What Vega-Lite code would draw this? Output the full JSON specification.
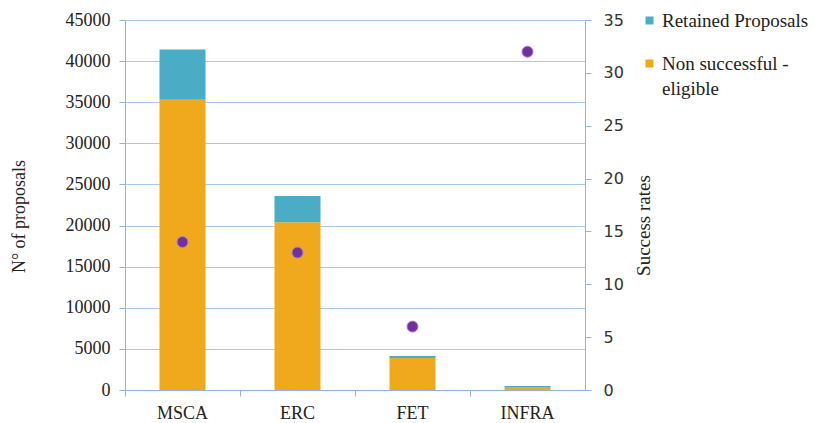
{
  "$schema": "https://vega.github.io/schema/vega-lite/v6.json",
  "autosize": {"type": "none"},
  "width": 460,
  "height": 370,
  "padding": {"left": 125, "top": 20, "right": 229, "bottom": 33},
  "background": "white",
  "datasets": {
    "proposals": [
      {"programme": "MSCA", "type": "Non successful - eligible", "order": 1, "value": 35300},
      {"programme": "MSCA", "type": "Retained Proposals", "order": 2, "value": 6100},
      {"programme": "ERC", "type": "Non successful - eligible", "order": 1, "value": 20400},
      {"programme": "ERC", "type": "Retained Proposals", "order": 2, "value": 3200},
      {"programme": "FET", "type": "Non successful - eligible", "order": 1, "value": 3900},
      {"programme": "FET", "type": "Retained Proposals", "order": 2, "value": 250},
      {"programme": "INFRA", "type": "Non successful - eligible", "order": 1, "value": 350},
      {"programme": "INFRA", "type": "Retained Proposals", "order": 2, "value": 150}
    ],
    "rates": [
      {"programme": "MSCA", "rate": 14},
      {"programme": "ERC", "rate": 13},
      {"programme": "FET", "rate": 6},
      {"programme": "INFRA", "rate": 32}
    ]
  },
  "layer": [
    {
      "data": {"name": "proposals"},
      "mark": {"type": "bar"},
      "encoding": {
        "x": {
          "field": "programme",
          "type": "nominal",
          "sort": ["MSCA", "ERC", "FET", "INFRA"],
          "scale": {"paddingInner": 0.6, "paddingOuter": 0.3},
          "axis": {
            "title": null,
            "labelAngle": 0,
            "labelFont": "Liberation Serif",
            "labelFontSize": 18,
            "labelColor": "#222222",
            "labelPadding": 8,
            "tickSize": 6,
            "bandPosition": -0.75,
            "domainColor": "#8EB4E3",
            "tickColor": "#8EB4E3",
            "grid": false
          }
        },
        "y": {
          "field": "value",
          "type": "quantitative",
          "stack": "zero",
          "scale": {"domain": [0, 45000], "nice": false},
          "axis": {
            "orient": "left",
            "values": [0, 5000, 10000, 15000, 20000, 25000, 30000, 35000, 40000, 45000],
            "format": "d",
            "grid": true,
            "gridColor": "#A9C9E8",
            "domainColor": "#8EB4E3",
            "tickColor": "#8EB4E3",
            "tickSize": 6,
            "labelPadding": 9,
            "labelFont": "Liberation Serif",
            "labelFontSize": 18,
            "labelColor": "#222222",
            "title": "N° of proposals",
            "titleFont": "Liberation Serif",
            "titleFontSize": 18,
            "titleFontWeight": "normal",
            "titleColor": "#222222",
            "titleAngle": 270,
            "titleAlign": "center",
            "titleBaseline": "middle",
            "titleX": -106,
            "titleY": 196
          }
        },
        "color": {
          "field": "type",
          "type": "nominal",
          "scale": {
            "domain": ["Retained Proposals", "Non successful - eligible"],
            "range": ["#4BACC6", "#F0A91C"]
          },
          "legend": {
            "title": null,
            "orient": "none",
            "legendX": 515,
            "legendY": -9,
            "symbolType": "square",
            "symbolSize": 64,
            "symbolStrokeWidth": 0,
            "labelFont": "Liberation Serif",
            "labelFontSize": 19,
            "labelColor": "#222222",
            "labelLimit": 300,
            "labelOffset": 3,
            "rowPadding": 23,
            "labelExpr": "datum.label == 'Non successful - eligible' ? ['Non successful -', 'eligible'] : datum.label",
            "encode": {
              "labels": {
                "update": {
                  "font": {"value": "Liberation Serif"},
                  "fontSize": {"value": 19}
                }
              }
            }
          }
        },
        "order": {"field": "order", "type": "quantitative"}
      }
    },
    {
      "data": {"name": "rates"},
      "mark": {"type": "point", "filled": true, "size": 120, "color": "#7030A0", "stroke": "#B07AC8", "strokeWidth": 1, "opacity": 1},
      "encoding": {
        "x": {
          "field": "programme",
          "type": "nominal",
          "sort": ["MSCA", "ERC", "FET", "INFRA"]
        },
        "y": {
          "field": "rate",
          "type": "quantitative",
          "scale": {"domain": [0, 35], "nice": false},
          "axis": {
            "orient": "right",
            "values": [0, 5, 10, 15, 20, 25, 30, 35],
            "grid": false,
            "domainColor": "#8EB4E3",
            "tickColor": "#8EB4E3",
            "tickSize": 6,
            "labelPadding": 12,
            "labelFont": "DejaVu Sans",
            "labelFontSize": 16,
            "labelColor": "#333333",
            "title": "Success rates",
            "titleFont": "Liberation Serif",
            "titleFontSize": 19,
            "titleFontWeight": "normal",
            "titleColor": "#222222",
            "titleAngle": 270,
            "titleAlign": "center",
            "titleBaseline": "middle",
            "titleX": 58,
            "titleY": 205
          }
        }
      }
    }
  ],
  "resolve": {"scale": {"y": "independent"}},
  "config": {
    "font": "Liberation Serif",
    "view": {"stroke": null},
    "style": {"guide-label": {"lineHeight": 25}}
  }
}
